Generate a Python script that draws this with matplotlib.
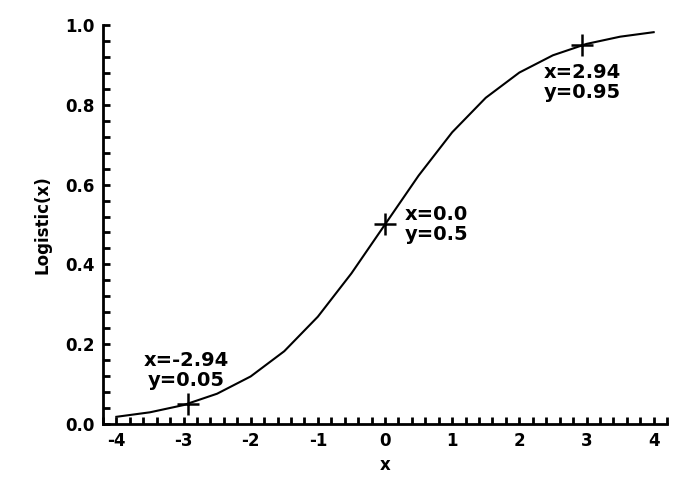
import matplotlib
matplotlib.use("Agg")
import matplotlib.pyplot as plt
from matplotlib.ticker import AutoMinorLocator, MultipleLocator

x_vals = [-4.0, -3.5, -3.0, -2.5, -2.0, -1.5, -1.0, -0.5, 0.0,
          0.5, 1.0, 1.5, 2.0, 2.5, 3.0, 3.5, 4.0]
y_vals = [0.018, 0.0293, 0.0474, 0.0759, 0.1192, 0.1824, 0.2689, 0.3775, 0.5,
          0.6225, 0.7311, 0.8176, 0.8808, 0.9241, 0.9526, 0.9707, 0.982]

mark_x = [-2.94, 0.0, 2.94]
mark_y = [0.05, 0.5, 0.95]
mark_labels = ["x=-2.94\ny=0.05", "x=0.0\ny=0.5", "x=2.94\ny=0.95"]

plt.rcParams['font.family'] = ['DejaVu Sans']
plt.rcParams['font.weight'] = 'bold'
plt.rcParams['axes.unicode_minus'] = False

fig = plt.figure(figsize=(7, 5), dpi=100)
ax = fig.add_axes([0.147, 0.152, 0.806, 0.798])

ax.plot(x_vals, y_vals, color='black', lw=1.5)
ax.plot(mark_x, mark_y, linestyle='none', marker='+', color='black',
        markersize=16, markeredgewidth=1.8)

ax.annotate(mark_labels[0], (mark_x[0], mark_y[0]), xytext=(-1, 10),
            textcoords='offset points', ha='center', va='bottom',
            fontsize=14, fontweight='bold', linespacing=1.05)
ax.annotate(mark_labels[1], (mark_x[1], mark_y[1]), xytext=(14, 0),
            textcoords='offset points', ha='left', va='center',
            fontsize=14, fontweight='bold', linespacing=1.05)
ax.annotate(mark_labels[2], (mark_x[2], mark_y[2]), xytext=(0, -13),
            textcoords='offset points', ha='center', va='top',
            fontsize=14, fontweight='bold', linespacing=1.05)

ax.set_xlim(-4.2, 4.2)
ax.set_ylim(0, 1.0)
ax.xaxis.set_major_locator(MultipleLocator(1))
ax.yaxis.set_major_locator(MultipleLocator(0.2))
ax.xaxis.set_minor_locator(AutoMinorLocator(5))
ax.yaxis.set_minor_locator(AutoMinorLocator(5))

for s in ['top', 'right']:
    ax.spines[s].set_visible(False)
for s in ['left', 'bottom']:
    ax.spines[s].set_linewidth(2)

ax.tick_params(which='both', direction='in', length=5, width=2, labelsize=12)
ax.tick_params(which='major', pad=6)
for lbl in ax.get_xticklabels() + ax.get_yticklabels():
    lbl.set_fontweight('bold')

ax.set_xlabel('x', fontsize=12, fontweight='bold')
ax.set_ylabel('Logistic(x)', fontsize=12, fontweight='bold', labelpad=10)

fig.savefig('out.png', dpi=100)
